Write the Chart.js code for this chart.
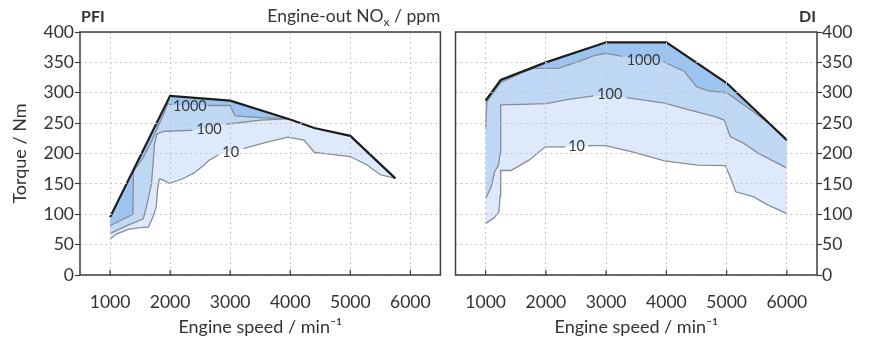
<!DOCTYPE html>
<html>
<head>
<meta charset="utf-8">
<title>Engine-out NOx map PFI / DI</title>
<script src="https://cdn.jsdelivr.net/npm/chart.js@4.4.1/dist/chart.umd.min.js"></script>
<style>
  html, body { margin: 0; padding: 0; background: #fff; }
  #wrap { position: relative; width: 870px; height: 342px; }
  #pfi { position: absolute; left: 0; top: 0; }
  #di { position: absolute; left: 448px; top: 0; }
</style>
</head>
<body>
<div id="wrap">
  <canvas id="pfi" width="448" height="342"></canvas>
  <canvas id="di" width="422" height="342"></canvas>
</div>
<script>
// axis ticks
const speedTicks = [1000, 2000, 3000, 4000, 5000, 6000];
const torqueTicks = [0, 50, 100, 150, 200, 250, 300, 350, 400];

// PFI map, points are [speed min^-1, torque Nm]
const pfiFullLoad = [[1000, 95], [2000, 295], [3000, 287], [4000, 256], [4400, 242], [5000, 229], [5750, 159]];
const pfiNox10 = [[1000, 59], [1100, 67], [1300, 75], [1500, 78], [1640, 79], [1680, 88], [1720, 97], [1770, 112],
  [1790, 140], [1820, 158], [1870, 157], [1990, 151], [2200, 158], [2400, 168], [2550, 180], [2650, 189],
  [2810, 198], [3220, 208], [3580, 218], [3960, 227], [4230, 222], [4400, 202], [5000, 195], [5280, 181],
  [5500, 165], [5750, 159]];
const pfiNox100 = [[1000, 68], [1300, 82], [1550, 92], [1600, 110], [1690, 150], [1740, 215], [1780, 232],
  [1880, 236], [2000, 237], [2370, 238], [2920, 249], [3000, 249], [3500, 255], [3960, 257]];
const pfiNox1000 = [[1000, 81], [1380, 100], [1390, 170], [1550, 193], [1700, 222], [1800, 245], [1880, 262],
  [1960, 282], [2030, 280], [2630, 279], [3000, 279], [3080, 262], [3500, 259], [3960, 257]];
// label, speed, torque, line gap from, gap to  (order: 10, 100, 1000)
const pfiLabels = [['10', 3010, 202, 2810, 3220], ['100', 2650, 240, 2370, 2920], ['1000', 2330, 278, 2030, 2630]];

// DI map
const diFullLoad = [[1000, 287], [1250, 321], [2000, 350], [3000, 383], [4000, 383], [5000, 316], [6000, 222]];
const diNox10 = [[1000, 85], [1140, 94], [1220, 104], [1240, 130], [1250, 172], [1420, 172], [1720, 189],
  [1990, 211], [2320, 211], [2700, 213], [2990, 213], [3420, 203], [3970, 188], [4520, 181], [4980, 180],
  [5090, 154], [5150, 137], [5440, 129], [5690, 115], [6000, 101]];
const diNox100 = [[1000, 126], [1090, 145], [1150, 170], [1214, 181], [1240, 200], [1250, 280], [1600, 281],
  [2000, 282], [2380, 289], [2790, 295], [3340, 292], [3970, 283], [4300, 274], [4790, 261], [4960, 255],
  [5060, 228], [5280, 217], [5530, 200], [5690, 192], [6000, 176]];
const diNox1000 = [[1000, 240], [1020, 285], [1250, 317], [1600, 333], [1800, 340], [2200, 340], [2500, 350],
  [2800, 361], [3000, 365], [3270, 360], [3950, 351], [4300, 335], [4500, 310], [4700, 303], [5000, 300],
  [5400, 272], [5750, 246]];
const diLabels = [['10', 2510, 211, 2320, 2700], ['100', 3060, 297, 2790, 3340], ['1000', 3620, 354, 3270, 3950]];

const fillColors = ['#deeafb', '#bfd8f6', '#9dc4f1'];  // >10, >100, >1000 ppm
const textColor = '#333';
const frameColor = '#3c3c3c';
const family = "Lato, 'Open Sans', sans-serif";

Chart.defaults.font.family = family;
Chart.defaults.font.size = 17.5;
Chart.defaults.color = textColor;

function pts(arr) {
  return arr.map(p => ({ x: p[0], y: p[1] }));
}

// iso-line plus the full-load curve back to the start closes the area above the line
function region(iso, full) {
  const x0 = iso[0][0], x1 = iso[iso.length - 1][0];
  const back = full.filter(p => p[0] >= x0 && p[0] <= x1).reverse();
  return pts(iso.concat(back));
}

function makeChart(id, full, isos, labels, side) {
  const datasets = [
    { data: pts(full), borderColor: '#1d1d1d', borderWidth: 2.2, order: 0 }
  ];
  isos.forEach((iso, i) => {
    const gap = labels[i];
    datasets.push({
      data: pts(iso), borderColor: '#878d94', borderWidth: 1.3, order: 1,
      segment: {
        borderColor: c => (c.p0.parsed.x >= gap[3] && c.p1.parsed.x <= gap[4]) ? 'rgba(0,0,0,0)' : undefined
      }
    });
  });
  isos.forEach((iso, i) => {
    datasets.push({
      data: region(iso, full), fill: 'shape', backgroundColor: fillColors[i],
      borderColor: 'rgba(0,0,0,0)', borderWidth: 0, order: 4 - i
    });
  });

  const left = side === 'left';

  const frame = {
    id: 'frame',
    afterDraw(chart) {
      const { ctx, chartArea: a, scales: { x, y } } = chart;
      ctx.save();
      // box
      ctx.strokeStyle = frameColor;
      ctx.lineWidth = 1.5;
      ctx.strokeRect(a.left, a.top, a.right - a.left, a.bottom - a.top);
      // inward speed ticks
      ctx.lineWidth = 1.2;
      speedTicks.forEach(v => {
        const px = x.getPixelForValue(v);
        ctx.beginPath();
        ctx.moveTo(px, a.bottom);
        ctx.lineTo(px, a.bottom - 5);
        ctx.stroke();
      });
      // iso-line labels
      ctx.fillStyle = '#3a3a3a';
      ctx.font = '14.5px ' + family;
      ctx.textAlign = 'center';
      ctx.textBaseline = 'middle';
      labels.forEach(l => ctx.fillText(l[0], x.getPixelForValue(l[1]), y.getPixelForValue(l[2])));
      // headings
      ctx.fillStyle = textColor;
      ctx.textBaseline = 'alphabetic';
      if (left) {
        ctx.font = 'bold 16px ' + family;
        ctx.textAlign = 'left';
        ctx.fillText('PFI', a.left + 1, 22);
        const big = '17.5px ' + family;
        const small = '12px ' + family;
        ctx.font = big;
        const w1 = ctx.measureText('Engine-out NO').width;
        const w3 = ctx.measureText(' / ppm').width;
        ctx.font = small;
        const w2 = ctx.measureText('x').width;
        let px = a.right - (w1 + w2 + w3);
        ctx.font = big;
        ctx.fillText('Engine-out NO', px, 22);
        px += w1;
        ctx.font = small;
        ctx.fillText('x', px, 26);
        px += w2;
        ctx.font = big;
        ctx.fillText(' / ppm', px, 22);
      } else {
        ctx.font = 'bold 16px ' + family;
        ctx.textAlign = 'right';
        ctx.fillText('DI', a.right - 1, 22);
      }
      ctx.restore();
    }
  };

  return new Chart(document.getElementById(id), {
    type: 'scatter',
    data: { datasets },
    options: {
      responsive: false,
      animation: false,
      layout: { padding: left ? { left: 0, right: 4, top: 32, bottom: 0 } : { left: 4, right: 0, top: 32, bottom: 0 } },
      elements: { point: { radius: 0, hoverRadius: 0 }, line: { tension: 0 } },
      datasets: { scatter: { showLine: true } },
      plugins: { legend: { display: false }, tooltip: { enabled: false } },
      scales: {
        x: {
          type: 'linear', min: 500, max: 6500,
          afterBuildTicks: s => { s.ticks = speedTicks.map(v => ({ value: v })); },
          afterFit: s => { s.height = 67; },
          grid: { color: '#c6c6c6', drawTicks: false, z: 1 },
          border: { display: false, dash: [2, 3] },
          ticks: { padding: 17, maxRotation: 0, autoSkip: false, callback: v => String(v) },
          title: { display: true, text: 'Engine speed / min⁻¹', font: { size: 18 }, padding: { top: 0, bottom: 4 } }
        },
        y: {
          type: 'linear', min: 0, max: 400, position: side,
          afterBuildTicks: s => { s.ticks = torqueTicks.map(v => ({ value: v })); },
          afterFit: s => { s.width = left ? 80 : 53; },
          grid: { color: '#c6c6c6', tickColor: frameColor, tickLength: 5, tickWidth: 1.2, z: 1 },
          border: { display: false, dash: [2, 3] },
          ticks: { padding: left ? 1 : 0, callback: v => String(v) },
          title: { display: left, text: 'Torque / Nm', font: { size: 18 }, padding: { top: 9, bottom: 0 } }
        }
      }
    },
    plugins: [frame]
  });
}

makeChart('pfi', pfiFullLoad, [pfiNox10, pfiNox100, pfiNox1000], pfiLabels, 'left');
makeChart('di', diFullLoad, [diNox10, diNox100, diNox1000], diLabels, 'right');
</script>
</body>
</html>
